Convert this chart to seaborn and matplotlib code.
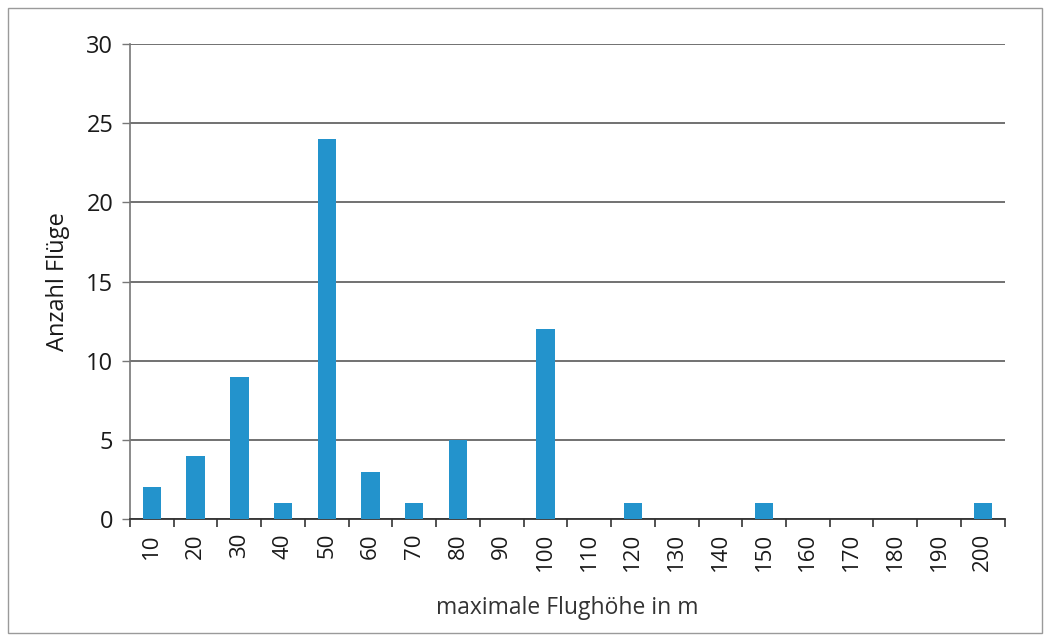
import matplotlib
matplotlib.use("Agg")
import matplotlib.pyplot as plt
import seaborn as sns
import pandas as pd
import numpy as np

# Maximum flight altitude classes (m) and number of flights per class
hoehen = [10, 20, 30, 40, 50, 60, 70, 80, 90, 100,
          110, 120, 130, 140, 150, 160, 170, 180, 190, 200]
anzahl = [2, 4, 9, 1, 24, 3, 1, 5, 0, 12,
          0, 1, 0, 0, 1, 0, 0, 0, 0, 1]
y_ticks = [0, 5, 10, 15, 20, 25, 30]

sns.set_theme(style="white")
plt.rcParams["font.family"] = ["Open Sans", "DejaVu Sans"]

df = pd.DataFrame({"hoehe": [str(h) for h in hoehen], "anzahl": anzahl})

fig = plt.figure(figsize=(10.5, 6.37), dpi=100)
ax = fig.add_axes([0.1238, 0.185, 0.833, 0.746])

sns.barplot(data=df, x="hoehe", y="anzahl", order=df["hoehe"],
            color="#2393cc", saturation=1, width=0.42, linewidth=0,
            ax=ax, zorder=3)

ax.set_ylim(0, 30)
ax.set_xlim(-0.5, len(hoehen) - 0.5)
ax.set_yticks(y_ticks)
ax.yaxis.grid(True, color="#4a4a4a", linewidth=1.1, zorder=0)
ax.set_axisbelow(True)

# category ticks sit between the bars
ax.set_xticks(np.arange(len(hoehen)))
ax.set_xticklabels([str(h) for h in hoehen], rotation=90, fontsize=16, color="#1a1a1a")
ax.set_xticks(np.arange(-0.5, len(hoehen)), minor=True)
ax.tick_params(axis="x", which="major", length=0, pad=10)
ax.tick_params(axis="x", which="minor", length=6, width=1.2, color="#333333", direction="out", bottom=True)
ax.tick_params(axis="y", which="major", length=6, width=1.0, color="#777777",
               direction="out", left=True, labelsize=17, labelcolor="#1a1a1a", pad=6)

for side in ["top", "right"]:
    ax.spines[side].set_visible(False)
ax.spines["left"].set_color("#777777")
ax.spines["left"].set_linewidth(1.2)
ax.spines["bottom"].set_color("#333333")
ax.spines["bottom"].set_linewidth(1.3)

ax.set_xlabel("maximale Flughöhe in m", fontsize=16.5, color="#333333", labelpad=18)
ax.set_ylabel("Anzahl Flüge", fontsize=17, color="#1a1a1a", labelpad=12)

# thin frame around the whole chart
fig.patches.append(plt.Rectangle((0.008, 0.006), 0.984, 0.982, transform=fig.transFigure,
                                 fill=False, edgecolor="#9a9a9a", linewidth=1.0))

fig.savefig("out.png", dpi=100)
